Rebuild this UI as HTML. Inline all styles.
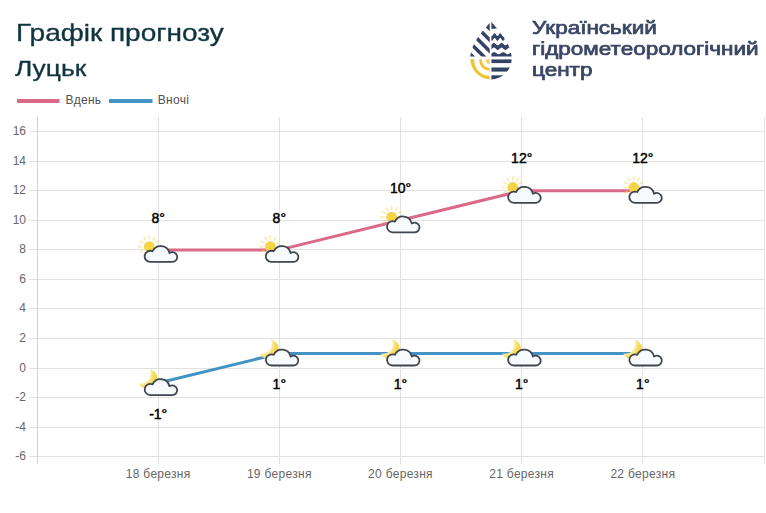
<!DOCTYPE html>
<html><head><meta charset="utf-8">
<style>
html,body{margin:0;padding:0;background:#fff;}
body{width:766px;height:513px;position:relative;overflow:hidden;font-family:"Liberation Sans",sans-serif;}
.t1{position:absolute;left:16px;top:19px;font-size:24px;color:#0f3440;-webkit-text-stroke:0.35px #0f3440;white-space:nowrap;transform:scaleX(1.166);transform-origin:0 0;}
.t2{position:absolute;left:15px;top:56px;font-size:22px;color:#0f3440;-webkit-text-stroke:0.3px #0f3440;white-space:nowrap;transform:scaleX(1.2);transform-origin:0 0;}
.lg{position:absolute;left:532px;top:18px;font-size:18px;font-weight:normal;-webkit-text-stroke:0.7px #3a4766;color:#3a4766;line-height:21px;white-space:nowrap;transform:scaleX(1.25);transform-origin:0 0;}
svg text{font-family:"Liberation Sans",sans-serif;}
.yl{font-size:12px;fill:#666;}
.xl{font-size:12px;fill:#666;letter-spacing:0.3px;}
.dl{font-size:14px;fill:#000;stroke:#000;stroke-width:0.45px;}
.leg{font-size:12px;fill:#505050;letter-spacing:0.3px;}
</style></head><body>
<div class="t1">Графік прогнозу</div>
<div class="t2">Луцьк</div>
<div class="lg">Український<br>гідрометеорологічний<br>центр</div>
<svg width="766" height="513" style="position:absolute;left:0;top:0">
<defs>
<g id="sunc">
<g stroke="#f0d860" stroke-opacity="0.5" stroke-width="1.6" stroke-linecap="butt">
<line x1="-1.90" y1="-2.90" x2="2.30" y2="-2.90"/>
<line x1="-2.84" y1="0.60" x2="0.80" y2="2.70"/>
<line x1="-5.40" y1="3.16" x2="-3.30" y2="6.80"/>
<line x1="-8.90" y1="4.10" x2="-8.90" y2="8.30"/>
<line x1="-12.40" y1="3.16" x2="-14.50" y2="6.80"/>
<line x1="-14.96" y1="0.60" x2="-18.60" y2="2.70"/>
<line x1="-15.90" y1="-2.90" x2="-20.10" y2="-2.90"/>
<line x1="-14.96" y1="-6.40" x2="-18.60" y2="-8.50"/>
<line x1="-12.40" y1="-8.96" x2="-14.50" y2="-12.60"/>
<line x1="-8.90" y1="-9.90" x2="-8.90" y2="-14.10"/>
<line x1="-5.40" y1="-8.96" x2="-3.30" y2="-12.60"/>
<line x1="-2.84" y1="-6.40" x2="0.80" y2="-8.50"/>
</g>
<circle cx="-8.9" cy="-2.9" r="5.4" fill="#f5d445"/>
<path d="M14.10,12.40 L-7.90,12.40 A5.6,5.6 0 1 1 -5.65,1.67 A9,9 0 0 1 11.27,3.50 A4.9,4.9 0 1 1 14.10,12.40 Z" fill="#f8fbfd" stroke="#3f4652" stroke-width="1.8" stroke-linejoin="round"/>
</g>
<mask id="moonmask"><rect x="-40" y="-40" width="80" height="80" fill="#fff"/><circle cx="-17.5" cy="-9.3" r="10" fill="#000"/></mask>
<g id="moonc">
<radialGradient id="mg" gradientUnits="userSpaceOnUse" cx="-17.5" cy="-9.3" r="17.5"><stop offset="0.57" stop-color="#fbf0b0"/><stop offset="0.78" stop-color="#f4da58"/><stop offset="1" stop-color="#f2d03e"/></radialGradient>
<circle cx="-10.7" cy="-4.0" r="10" fill="url(#mg)" mask="url(#moonmask)"/>
<path d="M14.10,12.40 L-7.90,12.40 A5.6,5.6 0 1 1 -5.65,1.67 A9,9 0 0 1 11.27,3.50 A4.9,4.9 0 1 1 14.10,12.40 Z" fill="#f8fbfd" stroke="#3f4652" stroke-width="1.8" stroke-linejoin="round"/>
</g>
<clipPath id="dropL"><path d="M491,21.5 C497,28.5 511.7,43 511.7,58.7 A20.7,20.7 0 0 1 470.3,58.7 C470.3,43 485,28.5 491,21.5 Z"/></clipPath>
<clipPath id="lq"><rect x="460" y="15" width="29.7" height="41.6"/></clipPath>
<clipPath id="lb"><rect x="460" y="59.3" width="29.7" height="30"/></clipPath>
<clipPath id="rq"><rect x="491.4" y="15" width="30" height="70"/></clipPath>
</defs>
<line x1="17" y1="101" x2="59.5" y2="101" stroke="#da6a87" stroke-width="4" stroke-linecap="butt"/>
<text x="65.5" y="103.8" class="leg">Вдень</text>
<line x1="109" y1="101" x2="152.5" y2="101" stroke="#4393c4" stroke-width="4"/>
<text x="157.8" y="103.8" class="leg">Вночі</text>
<line x1="29" y1="131.5" x2="765" y2="131.5" stroke="#e2e2e2" stroke-width="1"/>
<line x1="29" y1="161.5" x2="765" y2="161.5" stroke="#e2e2e2" stroke-width="1"/>
<line x1="29" y1="190.5" x2="765" y2="190.5" stroke="#e2e2e2" stroke-width="1"/>
<line x1="29" y1="220.5" x2="765" y2="220.5" stroke="#e2e2e2" stroke-width="1"/>
<line x1="29" y1="249.5" x2="765" y2="249.5" stroke="#e2e2e2" stroke-width="1"/>
<line x1="29" y1="279.5" x2="765" y2="279.5" stroke="#e2e2e2" stroke-width="1"/>
<line x1="29" y1="308.5" x2="765" y2="308.5" stroke="#e2e2e2" stroke-width="1"/>
<line x1="29" y1="338.5" x2="765" y2="338.5" stroke="#e2e2e2" stroke-width="1"/>
<line x1="29" y1="368.5" x2="765" y2="368.5" stroke="#e2e2e2" stroke-width="1"/>
<line x1="29" y1="397.5" x2="765" y2="397.5" stroke="#e2e2e2" stroke-width="1"/>
<line x1="29" y1="427.5" x2="765" y2="427.5" stroke="#e2e2e2" stroke-width="1"/>
<line x1="29" y1="456.5" x2="765" y2="456.5" stroke="#e2e2e2" stroke-width="1"/>
<line x1="37.5" y1="117" x2="37.5" y2="464" stroke="#d2d2d2" stroke-width="1"/>
<line x1="158.5" y1="117" x2="158.5" y2="464" stroke="#e2e2e2" stroke-width="1"/>
<line x1="279.5" y1="117" x2="279.5" y2="464" stroke="#e2e2e2" stroke-width="1"/>
<line x1="400.5" y1="117" x2="400.5" y2="464" stroke="#e2e2e2" stroke-width="1"/>
<line x1="521.5" y1="117" x2="521.5" y2="464" stroke="#e2e2e2" stroke-width="1"/>
<line x1="642.5" y1="117" x2="642.5" y2="464" stroke="#e2e2e2" stroke-width="1"/>
<line x1="764.5" y1="117" x2="764.5" y2="464" stroke="#e2e2e2" stroke-width="1"/>
<text x="26" y="134.8" text-anchor="end" class="yl">16</text>
<text x="26" y="164.8" text-anchor="end" class="yl">14</text>
<text x="26" y="193.8" text-anchor="end" class="yl">12</text>
<text x="26" y="223.8" text-anchor="end" class="yl">10</text>
<text x="26" y="252.8" text-anchor="end" class="yl">8</text>
<text x="26" y="282.8" text-anchor="end" class="yl">6</text>
<text x="26" y="311.8" text-anchor="end" class="yl">4</text>
<text x="26" y="341.8" text-anchor="end" class="yl">2</text>
<text x="26" y="371.8" text-anchor="end" class="yl">0</text>
<text x="26" y="400.8" text-anchor="end" class="yl">-2</text>
<text x="26" y="430.8" text-anchor="end" class="yl">-4</text>
<text x="26" y="459.8" text-anchor="end" class="yl">-6</text>
<text x="158.2" y="478" text-anchor="middle" class="xl">18 березня</text>
<text x="279.3" y="478" text-anchor="middle" class="xl">19 березня</text>
<text x="400.5" y="478" text-anchor="middle" class="xl">20 березня</text>
<text x="521.7" y="478" text-anchor="middle" class="xl">21 березня</text>
<text x="642.8" y="478" text-anchor="middle" class="xl">22 березня</text>
<polyline fill="none" stroke="#da6a87" stroke-width="3" stroke-linejoin="round" points="158.2,249.91 279.3,249.91 400.5,220.32 521.7,190.73 642.8,190.73"/>
<polyline fill="none" stroke="#4393c4" stroke-width="3" stroke-linejoin="round" points="158.2,383.06 279.3,353.48 400.5,353.48 521.7,353.48 642.8,353.48"/>
<use href="#sunc" x="158.17" y="249.56"/>
<text x="158.2" y="222.6" text-anchor="middle" class="dl">8°</text>
<use href="#sunc" x="279.33" y="249.56"/>
<text x="279.3" y="222.6" text-anchor="middle" class="dl">8°</text>
<use href="#sunc" x="400.50" y="219.97"/>
<text x="400.5" y="193.0" text-anchor="middle" class="dl">10°</text>
<use href="#sunc" x="521.67" y="190.38"/>
<text x="521.7" y="163.4" text-anchor="middle" class="dl">12°</text>
<use href="#sunc" x="642.83" y="190.38"/>
<text x="642.8" y="163.4" text-anchor="middle" class="dl">12°</text>
<use href="#moonc" x="158.17" y="382.71"/>
<text x="158.2" y="419.0" text-anchor="middle" class="dl">-1°</text>
<use href="#moonc" x="279.33" y="353.12"/>
<text x="279.3" y="389.4" text-anchor="middle" class="dl">1°</text>
<use href="#moonc" x="400.50" y="353.12"/>
<text x="400.5" y="389.4" text-anchor="middle" class="dl">1°</text>
<use href="#moonc" x="521.67" y="353.12"/>
<text x="521.7" y="389.4" text-anchor="middle" class="dl">1°</text>
<use href="#moonc" x="642.83" y="353.12"/>
<text x="642.8" y="389.4" text-anchor="middle" class="dl">1°</text>
<g clip-path="url(#dropL)">
<g clip-path="url(#lq)">
<polygon fill="#344365" points="440,-40.00 500,20.00 500,41.60 440,-18.40"/>
<polygon fill="#344365" points="440,-12.20 500,47.80 500,52.80 440,-7.20"/>
<polygon fill="#344365" points="440,-1.00 500,59.00 500,64.00 440,4.00"/>
<polygon fill="#344365" points="440,10.20 500,70.20 500,75.20 440,15.20"/>
<polygon fill="#344365" points="440,21.40 500,81.40 500,86.40 440,26.40"/>
<polygon fill="#344365" points="440,32.60 500,92.60 500,97.60 440,37.60"/>
</g>
<g clip-path="url(#lb)">
<circle cx="489.6" cy="60.3" r="3.6" fill="#f1c232" opacity="0.75"/>
<circle cx="489.6" cy="60.3" r="9.0" fill="none" stroke="#f1c232" stroke-width="2.8000000000000007"/>
<circle cx="489.6" cy="60.3" r="17.5" fill="none" stroke="#f1c232" stroke-width="4.200000000000001"/>
</g>
<g clip-path="url(#rq)">
<polygon fill="#344365" points="488,15 520,15 520,26 491.5,28.9"/>
<polygon fill="#344365" points="490.00,33.99 490.31,34.46 490.62,34.95 490.94,35.39 491.25,35.74 491.56,35.95 491.88,36.00 492.19,35.87 492.50,35.59 492.81,35.19 493.12,34.72 493.44,34.23 493.75,33.79 494.06,33.45 494.38,33.24 494.69,33.21 495.00,33.34 495.31,33.62 495.62,34.03 495.94,34.50 496.25,34.99 496.56,35.43 496.88,35.76 497.19,35.96 497.50,35.99 497.81,35.85 498.12,35.56 498.44,35.15 498.75,34.68 499.06,34.19 499.38,33.76 499.69,33.43 500.00,33.24 500.31,33.21 500.62,33.36 500.94,33.65 501.25,34.06 501.56,34.54 501.88,35.03 502.19,35.46 502.50,35.79 502.81,35.97 503.12,35.99 503.44,35.83 503.75,35.53 504.06,35.12 504.38,34.64 504.69,34.16 505.00,33.73 505.31,33.40 505.62,33.23 505.94,33.22 506.25,33.37 506.56,33.68 506.88,34.10 507.19,34.58 507.50,35.06 507.81,35.49 508.12,35.81 508.44,35.98 508.75,35.98 509.06,35.82 509.38,35.50 509.69,35.08 510.00,34.60 510.31,34.12 510.62,33.70 510.94,33.38 511.25,33.22 511.56,33.22 511.88,33.39 512.19,33.71 512.50,34.14 512.81,34.62 513.12,35.10 513.44,35.52 513.75,35.83 514.06,35.98 514.38,35.97 514.69,35.80 515.00,35.47 515.00,40.27 514.69,40.60 514.38,40.77 514.06,40.78 513.75,40.63 513.44,40.32 513.12,39.90 512.81,39.42 512.50,38.94 512.19,38.51 511.88,38.19 511.56,38.02 511.25,38.02 510.94,38.18 510.62,38.50 510.31,38.92 510.00,39.40 509.69,39.88 509.38,40.30 509.06,40.62 508.75,40.78 508.44,40.78 508.12,40.61 507.81,40.29 507.50,39.86 507.19,39.38 506.88,38.90 506.56,38.48 506.25,38.17 505.94,38.02 505.62,38.03 505.31,38.20 505.00,38.53 504.69,38.96 504.38,39.44 504.06,39.92 503.75,40.33 503.44,40.63 503.12,40.79 502.81,40.77 502.50,40.59 502.19,40.26 501.88,39.83 501.56,39.34 501.25,38.86 500.94,38.45 500.62,38.16 500.31,38.01 500.00,38.04 499.69,38.23 499.38,38.56 499.06,38.99 498.75,39.48 498.44,39.95 498.12,40.36 497.81,40.65 497.50,40.79 497.19,40.76 496.88,40.56 496.56,40.23 496.25,39.79 495.94,39.30 495.62,38.83 495.31,38.42 495.00,38.14 494.69,38.01 494.38,38.04 494.06,38.25 493.75,38.59 493.44,39.03 493.12,39.52 492.81,39.99 492.50,40.39 492.19,40.67 491.88,40.80 491.56,40.75 491.25,40.54 490.94,40.19 490.62,39.75 490.31,39.26 490.00,38.79"/>
<polygon fill="#344365" points="490.00,45.30 490.31,45.27 490.62,45.18 490.94,45.01 491.25,44.79 491.56,44.53 491.88,44.24 492.19,43.95 492.50,43.67 492.81,43.42 493.12,43.22 493.44,43.08 493.75,43.01 494.06,43.01 494.38,43.09 494.69,43.23 495.00,43.43 495.31,43.68 495.62,43.96 495.94,44.26 496.25,44.54 496.56,44.80 496.88,45.02 497.19,45.18 497.50,45.28 497.81,45.30 498.12,45.25 498.44,45.12 498.75,44.94 499.06,44.70 499.38,44.43 499.69,44.14 500.00,43.85 500.31,43.58 500.62,43.35 500.94,43.16 501.25,43.05 501.56,43.00 501.88,43.03 502.19,43.13 502.50,43.30 502.81,43.52 503.12,43.78 503.44,44.07 503.75,44.36 504.06,44.64 504.38,44.89 504.69,45.08 505.00,45.22 505.31,45.29 505.62,45.29 505.94,45.21 506.25,45.06 506.56,44.86 506.88,44.61 507.19,44.33 507.50,44.03 507.81,43.75 508.12,43.49 508.44,43.27 508.75,43.11 509.06,43.02 509.38,43.00 509.69,43.06 510.00,43.18 510.31,43.37 510.62,43.61 510.94,43.88 511.25,44.17 511.56,44.46 511.88,44.73 512.19,44.96 512.50,45.14 512.81,45.26 513.12,45.30 513.44,45.27 513.75,45.16 514.06,45.00 514.38,44.77 514.69,44.51 515.00,44.22 515.00,48.82 514.69,49.11 514.38,49.37 514.06,49.60 513.75,49.76 513.44,49.87 513.12,49.90 512.81,49.86 512.50,49.74 512.19,49.56 511.88,49.33 511.56,49.06 511.25,48.77 510.94,48.48 510.62,48.21 510.31,47.97 510.00,47.78 509.69,47.66 509.38,47.60 509.06,47.62 508.75,47.71 508.44,47.87 508.12,48.09 507.81,48.35 507.50,48.63 507.19,48.93 506.88,49.21 506.56,49.46 506.25,49.66 505.94,49.81 505.62,49.89 505.31,49.89 505.00,49.82 504.69,49.68 504.38,49.49 504.06,49.24 503.75,48.96 503.44,48.67 503.12,48.38 502.81,48.12 502.50,47.90 502.19,47.73 501.88,47.63 501.56,47.60 501.25,47.65 500.94,47.76 500.62,47.95 500.31,48.18 500.00,48.45 499.69,48.74 499.38,49.03 499.06,49.30 498.75,49.54 498.44,49.72 498.12,49.85 497.81,49.90 497.50,49.88 497.19,49.78 496.88,49.62 496.56,49.40 496.25,49.14 495.94,48.86 495.62,48.56 495.31,48.28 495.00,48.03 494.69,47.83 494.38,47.69 494.06,47.61 493.75,47.61 493.44,47.68 493.12,47.82 492.81,48.02 492.50,48.27 492.19,48.55 491.88,48.84 491.56,49.13 491.25,49.39 490.94,49.61 490.62,49.78 490.31,49.87 490.00,49.90"/>
<polygon fill="#344365" points="490.00,54.18 490.31,54.11 490.62,54.00 490.94,53.85 491.25,53.67 491.56,53.47 491.88,53.25 492.19,53.03 492.50,52.83 492.81,52.63 493.12,52.47 493.44,52.34 493.75,52.25 494.06,52.20 494.38,52.21 494.69,52.26 495.00,52.35 495.31,52.49 495.62,52.66 495.94,52.85 496.25,53.06 496.56,53.28 496.88,53.49 497.19,53.69 497.50,53.87 497.81,54.01 498.12,54.12 498.44,54.18 498.75,54.20 499.06,54.17 499.38,54.09 499.69,53.97 500.00,53.82 500.31,53.63 500.62,53.42 500.94,53.21 501.25,52.99 501.56,52.79 501.88,52.60 502.19,52.44 502.50,52.32 502.81,52.24 503.12,52.20 503.44,52.21 503.75,52.27 504.06,52.38 504.38,52.52 504.69,52.69 505.00,52.89 505.31,53.10 505.62,53.32 505.94,53.53 506.25,53.73 506.56,53.90 506.88,54.04 507.19,54.14 507.50,54.19 507.81,54.20 508.12,54.16 508.44,54.07 508.75,53.94 509.06,53.78 509.38,53.59 509.69,53.38 510.00,53.17 510.31,52.95 510.62,52.75 510.94,52.56 511.25,52.41 511.56,52.30 511.88,52.23 512.19,52.20 512.50,52.22 512.81,52.29 513.12,52.40 513.44,52.55 513.75,52.73 514.06,52.93 514.38,53.15 514.69,53.37 515.00,53.57 515,56.6 490,56.6"/>
<rect x="490" y="59.4" width="30" height="3.70" fill="#344365"/>
<rect x="490" y="67.5" width="30" height="4.10" fill="#344365"/>
<rect x="490" y="75.3" width="30" height="6.70" fill="#344365"/>
</g>
</g>
</svg>
</body></html>
